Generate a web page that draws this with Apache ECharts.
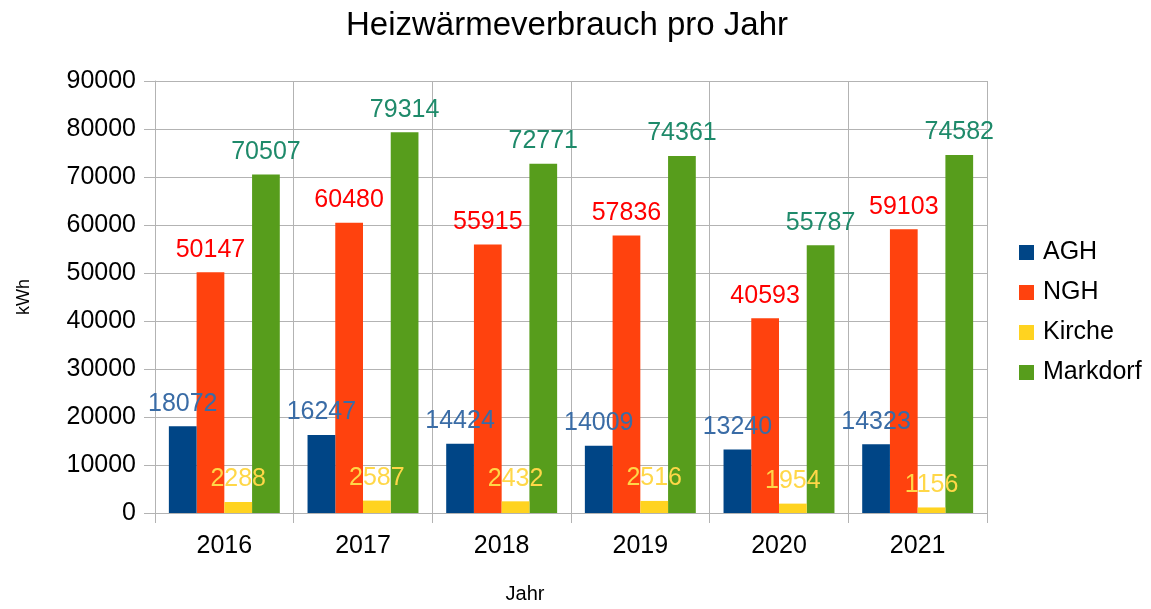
<!DOCTYPE html>
<html>
<head>
<meta charset="utf-8">
<script src="https://cdn.jsdelivr.net/npm/echarts@6/dist/echarts.min.js"></script>
<style>
html,body{margin:0;padding:0;background:#fff;}
#c{width:1151px;height:609px;}
</style>
</head>
<body>
<div id="c"></div>
<script>
const years = ['2016', '2017', '2018', '2019', '2020', '2021'];
const seriesNames = ['AGH', 'NGH', 'Kirche', 'Markdorf'];
const agh = [18072, 16247, 14424, 14009, 13240, 14323];
const ngh = [50147, 60480, 55915, 57836, 40593, 59103];
const kirche = [2288, 2587, 2432, 2516, 1954, 1156];
const markdorf = [70507, 79314, 72771, 74361, 55787, 74582];
const yTicks = [0, 10000, 20000, 30000, 40000, 50000, 60000, 70000, 80000, 90000];

const barColors = ['#004586', '#ff420e', '#ffd320', '#579d1c'];
const labelColors = ['#3a6ca6', '#ff0000', '#ffd748', '#1e8a6a'];
const seriesZ = [10, 5, 9, 5];
const allData = [agh, ngh, kirche, markdorf];
const FONT = '"Liberation Sans", Arial, sans-serif';

const chart = echarts.init(document.getElementById('c'), null, {renderer: 'canvas'});
chart.setOption({
  animation: false,
  backgroundColor: '#ffffff',
  textStyle: {fontFamily: FONT},
  title: {
    text: 'Heizwärmeverbrauch pro Jahr',
    left: 341,
    top: 4,
    textStyle: {fontFamily: FONT, fontSize: 33, fontWeight: 'normal', color: '#000'}
  },
  legend: {
    orient: 'vertical',
    left: 1014,
    top: 235,
    itemWidth: 15,
    itemHeight: 15,
    itemGap: 15,
    icon: 'rect',
    data: seriesNames,
    textStyle: {fontFamily: FONT, fontSize: 25, color: '#000', padding: [0, 0, 0, 4]}
  },
  grid: {left: 155, right: 164, top: 81, bottom: 96, containLabel: false, outerBoundsMode: 'none'},
  xAxis: {
    type: 'category',
    data: years,
    name: 'Jahr',
    nameLocation: 'middle',
    nameGap: 71,
    nameTextStyle: {fontFamily: FONT, fontSize: 20, color: '#000', padding: [0, 92, 0, 0]},
    axisLine: {lineStyle: {color: '#b3b3b3'}},
    axisTick: {show: true, length: 10, lineStyle: {color: '#b3b3b3'}},
    splitLine: {show: true, lineStyle: {color: '#b3b3b3'}},
    axisLabel: {fontFamily: FONT, fontSize: 25, color: '#000', margin: 21}
  },
  yAxis: {
    type: 'value',
    min: 0,
    max: 90000,
    interval: 10000,
    name: 'kWh',
    nameLocation: 'middle',
    nameGap: 122,
    nameRotate: 90,
    nameTextStyle: {fontFamily: FONT, fontSize: 18, color: '#000'},
    axisLine: {show: true, lineStyle: {color: '#b3b3b3'}},
    axisTick: {show: true, length: 11, lineStyle: {color: '#b3b3b3'}},
    splitLine: {show: true, lineStyle: {color: '#b3b3b3'}},
    axisLabel: {
      fontFamily: FONT, fontSize: 25, color: '#000', margin: 19,
      formatter: function (v) { return yTicks.indexOf(v) >= 0 ? String(v) : ''; }
    }
  },
  series: seriesNames.map(function (name, i) {
    return {
      name: name,
      type: 'bar',
      data: allData[i],
      barGap: '0%',
      barCategoryGap: '20%',
      itemStyle: {color: barColors[i]},
      label: {
        show: true,
        position: 'top',
        distance: 10,
        fontFamily: FONT,
        fontSize: 25,
        color: labelColors[i]
      },
      z: seriesZ[i]
    };
  })
});
</script>
</body>
</html>
